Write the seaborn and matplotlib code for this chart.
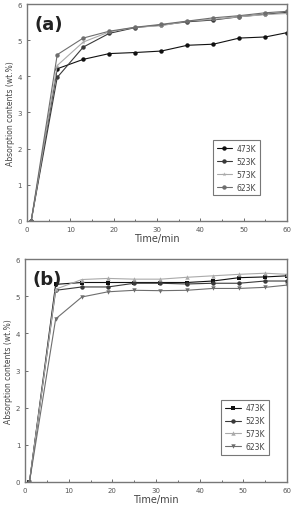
import pandas as pd
import matplotlib.pyplot as plt
import seaborn as sns

time_min = [1, 7, 13, 19, 25, 31, 37, 43, 49, 55, 60]
temps = ['473K', '523K', '573K', '623K']

# panel (a)
a_473 = [0, 4.21, 4.47, 4.63, 4.66, 4.70, 4.86, 4.89, 5.06, 5.09, 5.21]
a_523 = [0, 3.97, 4.81, 5.19, 5.35, 5.42, 5.51, 5.56, 5.65, 5.72, 5.77]
a_573 = [0, 4.30, 4.95, 5.23, 5.36, 5.40, 5.53, 5.58, 5.65, 5.71, 5.74]
a_623 = [0, 4.60, 5.06, 5.25, 5.36, 5.44, 5.53, 5.62, 5.68, 5.76, 5.80]

# panel (b)
b_473 = [0, 5.32, 5.37, 5.37, 5.37, 5.37, 5.37, 5.41, 5.50, 5.52, 5.55]
b_523 = [0, 5.16, 5.25, 5.25, 5.35, 5.35, 5.33, 5.35, 5.35, 5.41, 5.41]
b_573 = [0, 5.19, 5.45, 5.48, 5.46, 5.46, 5.51, 5.55, 5.59, 5.62, 5.59]
b_623 = [0, 4.39, 4.98, 5.12, 5.16, 5.15, 5.16, 5.21, 5.21, 5.24, 5.30]


def long_df(series):
    rows = []
    for name, vals in zip(temps, series):
        for t, v in zip(time_min, vals):
            rows.append({'Time': t, 'Abs': v, 'T': name})
    return pd.DataFrame(rows)


df_a = long_df([a_473, a_523, a_573, a_623])
df_b = long_df([b_473, b_523, b_573, b_623])

sns.set_style('ticks')
plt.rcParams['font.family'] = ['DejaVu Sans']

colors = {'473K': '#111111', '523K': '#3a3a3a', '573K': '#aaaaaa', '623K': '#6e6e6e'}
markers_a = {'473K': 'o', '523K': 'o', '573K': '*', '623K': 'o'}
markers_b = {'473K': 's', '523K': 'o', '573K': '^', '623K': 'v'}

fig = plt.figure(figsize=(2.92, 5.10), dpi=100)
ax_a = fig.add_axes([0.092, 0.565, 0.891, 0.425])
ax_b = fig.add_axes([0.086, 0.053, 0.897, 0.437])

panels = [(ax_a, df_a, markers_a, '(a)', (0.70, 0.10, 0.21, 0.26)),
          (ax_b, df_b, markers_b, '(b)', (0.735, 0.105, 0.21, 0.275))]

for ax, df, mk, tag, lbox in panels:
    sns.lineplot(data=df, x='Time', y='Abs', hue='T', style='T',
                 palette=colors, markers=mk, dashes=False, ax=ax,
                 linewidth=0.8, markersize=3.2, markeredgewidth=0)
    ax.set_xlim(0, 60)
    ax.set_ylim(0, 6)
    ax.set_xticks(range(0, 61, 10))
    ax.set_xticks(range(5, 60, 10), minor=True)
    ax.set_yticks(range(0, 7))
    ax.tick_params(direction='in', labelsize=5, length=2.5, colors='#555555',
                   labelcolor='#555555', width=0.6)
    ax.tick_params(which='minor', direction='in', length=1.5, width=0.6, colors='#555555')
    for s in ax.spines.values():
        s.set_color('#777777')
        s.set_linewidth(1.0)
    ax.set_xlabel('Time/min', fontsize=7, color='#444444', labelpad=1)
    ax.set_ylabel('Absorption contents (wt.%)', fontsize=5.5, color='#444444',
                  labelpad=2)
    ax.text(0.03, 0.95, tag, transform=ax.transAxes, fontsize=13,
            fontweight='bold', va='top', ha='left', color='#222222')
    leg = ax.legend(loc='lower left', bbox_to_anchor=lbox, mode='expand',
                    fontsize=5.5, frameon=True, fancybox=False,
                    handlelength=2.0, handletextpad=0.6, borderpad=0.5,
                    labelspacing=0.5, labelcolor='#444444')
    leg.get_frame().set_edgecolor('#555555')
    leg.get_frame().set_linewidth(0.8)

plt.savefig('out.png', dpi=100)
